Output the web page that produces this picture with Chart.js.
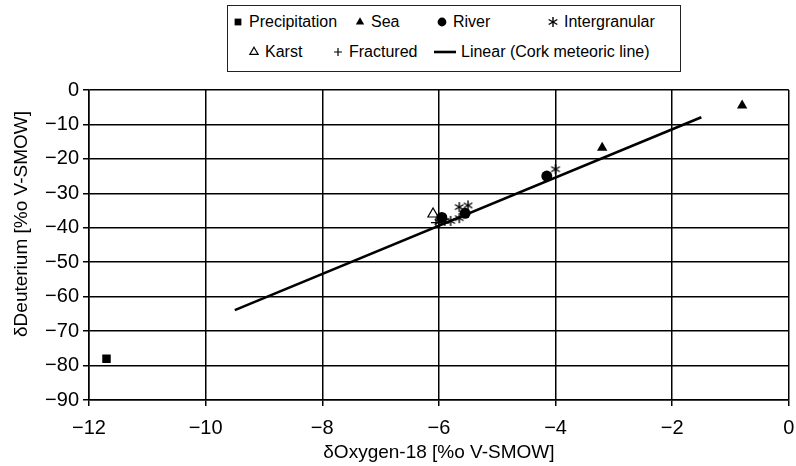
<!DOCTYPE html>
<html>
<head>
<meta charset="utf-8">
<script src="https://cdn.jsdelivr.net/npm/chart.js@4.4.1/dist/chart.umd.min.js"></script>
<style>
  body { margin: 0; background: #fff; font-family: "Liberation Sans", Arial, sans-serif; }
  #wrap { position: relative; width: 796px; height: 466px; }
  #legend { position: absolute; left: 227px; top: 5px; width: 454px; height: 67px;
            border: 1px solid #222; box-sizing: border-box; background: #fff; }
  .item { position: absolute; display: flex; align-items: center; font-size: 16px;
          color: #000; white-space: nowrap; line-height: 18px; }
  .item canvas { margin-right: 5px; }
</style>
</head>
<body>
<div id="wrap">
  <canvas id="chart" width="796" height="466"></canvas>
  <div id="legend"></div>
</div>
<script>
// values
const precipX = [-11.7];
const precipY = [-78];
const seaX = [-0.8, -3.2];
const seaY = [-4.5, -16.8];
const riverX = [-5.95, -5.55, -4.15];
const riverY = [-37, -35.8, -25];
const intergranularX = [-4.0, -5.65, -5.5, -5.8, -5.65, -6.0, -5.9];
const intergranularY = [-23, -34, -33.5, -38, -37.2, -38.3, -38];
const karstX = [-6.1];
const karstY = [-36];
const fracturedX = [-6.05];
const fracturedY = [-38.5];
const lineX = [-9.5, -1.5];
const lineY = [-63.9, -7.9];

const xTicks = [-12, -10, -8, -6, -4, -2, 0];
const yTicks = [0, -10, -20, -30, -40, -50, -60, -70, -80, -90];
const yTitle = '\u03b4Deuterium [%o V-SMOW]';

function pts(xs, ys) {
  return xs.map((x, i) => ({ x: x, y: ys[i] }));
}

// six armed asterisk marker
function asterisk(size) {
  const c = document.createElement('canvas');
  c.width = size; c.height = size;
  const g = c.getContext('2d');
  const r = size / 2 - 1;
  g.strokeStyle = '#000';
  g.lineWidth = 1.4;
  g.translate(size / 2, size / 2);
  [90, 30, 150].forEach(a => {
    const t = a * Math.PI / 180;
    g.beginPath();
    g.moveTo(-r * Math.cos(t), -r * Math.sin(t));
    g.lineTo(r * Math.cos(t), r * Math.sin(t));
    g.stroke();
  });
  return c;
}
const star = asterisk(12);

const datasets = [
  { label: 'Precipitation', data: pts(precipX, precipY), pointStyle: 'rect', pointRadius: 6,
    backgroundColor: '#000', borderColor: '#000', borderWidth: 0 },
  { label: 'Sea', data: pts(seaX, seaY), pointStyle: 'triangle', pointRadius: 6,
    backgroundColor: '#000', borderColor: '#000', borderWidth: 0 },
  { label: 'River', data: pts(riverX, riverY), pointStyle: 'circle', pointRadius: 5.5,
    backgroundColor: '#000', borderColor: '#000', borderWidth: 0 },
  { label: 'Intergranular', data: pts(intergranularX, intergranularY), pointStyle: star, pointRadius: 6,
    backgroundColor: '#000', borderColor: '#000', borderWidth: 0 },
  { label: 'Karst', data: pts(karstX, karstY), pointStyle: 'triangle', pointRadius: 6,
    backgroundColor: 'rgba(255,255,255,0)', borderColor: '#000', borderWidth: 1.2 },
  { label: 'Fractured', data: pts(fracturedX, fracturedY), pointStyle: 'cross', pointRadius: 5,
    backgroundColor: '#000', borderColor: '#000', borderWidth: 1.2 },
  { label: 'Linear (Cork meteoric line)', data: pts(lineX, lineY), showLine: true, pointRadius: 0,
    borderColor: '#000', borderWidth: 2.6, backgroundColor: '#000' }
];

const fmt = v => String(v).replace('-', '\u2212');

// y title sits a bit above the plot centre in the reference
const yTitlePlugin = {
  id: 'yTitle',
  afterDraw(chart) {
    const ctx = chart.ctx;
    ctx.save();
    ctx.translate(22, 224);
    ctx.rotate(-Math.PI / 2);
    ctx.font = '19px "Liberation Sans"';
    ctx.fillStyle = '#000';
    ctx.textAlign = 'center';
    ctx.textBaseline = 'middle';
    ctx.fillText(yTitle, 0, 0);
    ctx.restore();
  }
};

new Chart(document.getElementById('chart'), {
  type: 'scatter',
  data: { datasets: datasets },
  plugins: [yTitlePlugin],
  options: {
    responsive: false,
    animation: false,
    layout: { padding: { top: 90, right: 0, left: 0, bottom: 0 } },
    plugins: { legend: { display: false }, tooltip: { enabled: false } },
    scales: {
      x: {
        type: 'linear', min: -12, max: 0,
        afterBuildTicks: s => { s.ticks = xTicks.map(v => ({ value: v })); },
        afterFit: s => { s.height = 66; s.paddingLeft = 0; s.paddingRight = 5; },
        grid: { color: '#000', lineWidth: 1.5, tickLength: 6 },
        border: { color: '#000', width: 1.5 },
        ticks: { color: '#000', font: { family: 'Liberation Sans', size: 20 }, padding: 10, callback: fmt },
        title: { display: true, text: '\u03b4Oxygen-18 [%o V-SMOW]', color: '#000',
                 font: { family: 'Liberation Sans', size: 19 }, padding: { top: 0, bottom: 2 } }
      },
      y: {
        type: 'linear', min: -90, max: 0,
        afterBuildTicks: s => { s.ticks = yTicks.map(v => ({ value: v })); },
        afterFit: s => { s.width = 89; },
        grid: { color: '#000', lineWidth: 1.5, tickLength: 6 },
        border: { color: '#000', width: 1.5 },
        ticks: { color: '#000', font: { family: 'Liberation Sans', size: 20 }, padding: 4, callback: fmt }
      }
    }
  }
});

// legend box laid out like the reference
const legendPos = [
  [4, 21], [126, 21], [208, 21], [319, 21],
  [20, 51], [104, 51], [206, 51]
];
const legend = document.getElementById('legend');
datasets.forEach((ds, i) => {
  const el = document.createElement('div');
  el.className = 'item';
  el.style.left = legendPos[i][0] + 'px';
  el.style.top = (legendPos[i][1] - 9 - 5) + 'px';
  const isLine = !!ds.showLine;
  const c = document.createElement('canvas');
  c.width = isLine ? 22 : 12; c.height = 14;
  const g = c.getContext('2d');
  g.fillStyle = ds.backgroundColor;
  g.strokeStyle = ds.borderColor;
  if (isLine) {
    g.lineWidth = ds.borderWidth;
    g.beginPath(); g.moveTo(0, 7); g.lineTo(22, 7); g.stroke();
  } else {
    g.lineWidth = ds.borderWidth;
    Chart.helpers.drawPoint(g, { pointStyle: ds.pointStyle, radius: ds.pointRadius * 0.8,
      borderWidth: ds.borderWidth, rotation: 0 }, 6, 7);
  }
  el.appendChild(c);
  el.appendChild(document.createTextNode(ds.label));
  legend.appendChild(el);
});
</script>
</body>
</html>
